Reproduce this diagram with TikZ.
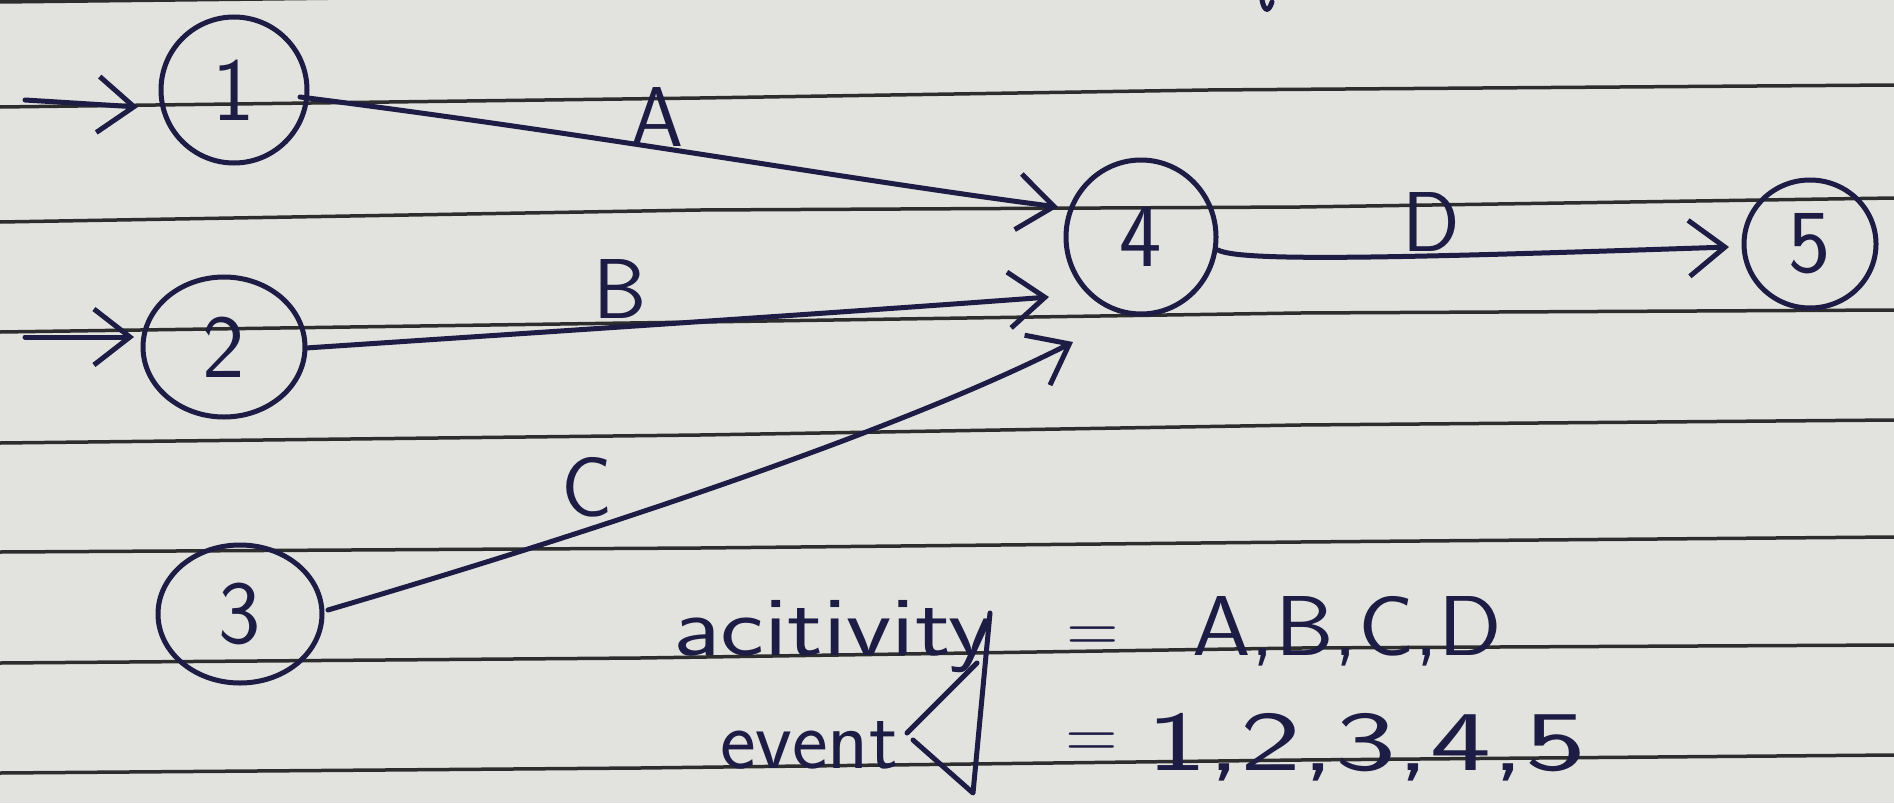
\documentclass[tikz,border=0pt]{standalone}
\usetikzlibrary{arrows.meta,shapes.geometric,calc}
\definecolor{paper}{RGB}{226,226,223}
\definecolor{ink}{RGB}{28,28,68}
\definecolor{rulecol}{RGB}{45,45,45}
\tikzset{
  ev/.style={ellipse, draw=ink, line width=5pt, inner sep=0pt, text=ink,
             font=\sffamily\fontsize{90}{100}\selectfont},
  pen/.style={draw=ink, line width=5pt, line cap=round, line join=round},
  arr/.style={pen, -{Straight Barb[length=36pt,width=56pt]}},
  lbl/.style={text=ink, inner sep=0pt, font=\sffamily\fontsize{85}{100}\selectfont},
  eqsign/.style={text=ink, inner sep=0pt, font=\sffamily\fontsize{72}{80}\selectfont},
  ruleline/.style={draw=rulecol, line width=3.5pt},
}
\begin{document}
\begin{tikzpicture}[x=1pt,y=-1pt]
\useasboundingbox (0,0) rectangle (1894,803);
\fill[paper] (0,0) rectangle (1894,803);
% ruled paper lines
\draw[ruleline] (0,2) -- (700,-6);
\draw[ruleline] (0,107) -- (700,98) -- (1208,90) -- (1894,85);
\draw[ruleline] (0,222) -- (700,210) -- (1300,207) -- (1894,198);
\draw[ruleline] (0,332) -- (700,322) -- (1300,313) -- (1894,310);
\draw[ruleline] (0,443) -- (700,435) -- (1300,425) -- (1894,420);
\draw[ruleline] (0,552) -- (700,548) -- (1300,542) -- (1894,537);
\draw[ruleline] (0,663) -- (640,658) -- (1300,648) -- (1894,645);
\draw[ruleline] (0,773) -- (640,768) -- (1300,760) -- (1894,755);
% small stroke at top
\draw[pen] (1262,0) .. controls (1264,10) and (1268,14) .. (1272,2);
% events
\node[ev, minimum width=146pt, minimum height=146pt] (n1) at (234,90) {1};
\node[ev, minimum width=162pt, minimum height=140pt] (n2) at (224,347) {2};
\node[ev, minimum width=164pt, minimum height=138pt] (n3) at (240,614) {3};
\node[ev, minimum width=150pt, minimum height=154pt] (n4) at (1141,237) {4};
\node[ev, minimum width=132pt, minimum height=128pt] (n5) at (1810,244) {5};
% incoming arrows
\coordinate (s1) at (25,100);
\coordinate (s2) at (25,337);
\draw[arr] (s1) -- ([shift={(-96,17)}]n1.center);
\draw[arr] (s2) -- ([shift={(-90,-10)}]n2.center);
% activities
\draw[arr] ([shift={(66,7)}]n1.center) .. controls (600,135) and (850,180) .. ([shift={(-83,-30)}]n4.center);
\draw[arr] ([shift={(82,1)}]n2.center) .. controls (500,335) and (850,312) .. ([shift={(-92,60)}]n4.center);
\draw[arr] ([shift={(88,-4)}]n3.center) .. controls (600,530) and (900,430) .. ([shift={(-68,105)}]n4.center);
\draw[arr] ([shift={(77,13)}]n4.center) .. controls (1240,262) and (1400,258) .. ([shift={(-81,3)}]n5.center);
% activity labels
\node[lbl] (la) at (657,117) {A};
\node[lbl] (lb) at (620,289) {B};
\node[lbl] (lc) at (587,487) {C};
\node[lbl] (ld) at (1431,222) {D};
% legend text
\node[lbl, anchor=base west] (act) at (673,655) {\resizebox{320pt}{\height}{acitivity}};
\node[eqsign] (eq1) at (1093,640) {=};
\node[lbl, anchor=base west] (actv) at (1192,655) {\resizebox{310pt}{\height}{A,B,C,D}};
\node[lbl, anchor=base west] (evt) at (720,768) {event};
\node[eqsign] (eq2) at (1092,746) {=};
\node[lbl, anchor=base west] (evtv) at (1146,770) {\resizebox{440pt}{\height}{1,2,3,4,5}};
% check mark strokes
\draw[pen] (907,733) -- (977,663);
\draw[pen] (913,740) -- (973,793) -- (990,613);
\end{tikzpicture}
\end{document}
